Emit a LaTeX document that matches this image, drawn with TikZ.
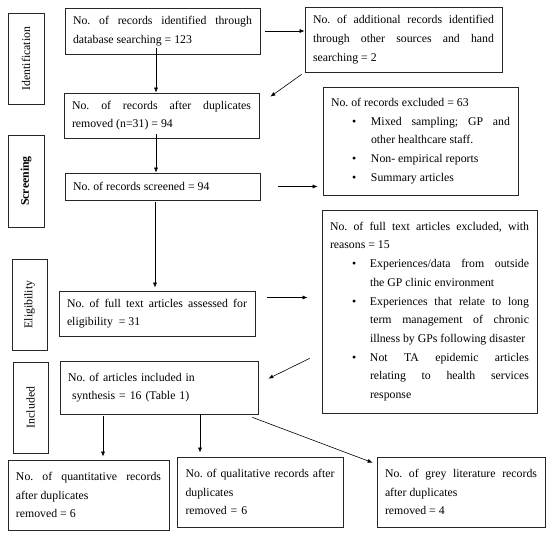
\documentclass[tikz,border=0pt]{standalone}
\usepackage{fontspec}
\setmainfont{Liberation Serif}
\usetikzlibrary{arrows.meta}
\frenchspacing
\newcommand\bitem[3]{\par\leftskip=#1\noindent\llap{\makebox[#2][l]{\textbullet}}#3\par}
\tikzset{
  box/.style={draw=black!85, line width=0.7pt, inner xsep=8pt, inner ysep=0pt, align=justify,
    font=\fontsize{11.8pt}{18.7pt}\selectfont\frenchspacing},
  side/.style={draw=black!85, line width=0.7pt, rotate=90, inner sep=0pt,
    font=\fontsize{11.8pt}{13pt}\selectfont},
  arr/.style={draw=black, line width=0.6pt, -{Latex[length=5pt,width=4pt]}},
}
\begin{document}
\begin{tikzpicture}[x=1pt,y=-1pt]
\useasboundingbox (0,0) rectangle (550,538);
% side labels
\node[side, minimum width=91pt, minimum height=36pt] (s1) at (26,58.5) {Identification};
\node[side, minimum width=92pt, minimum height=36pt, font=\fontsize{11.8pt}{13pt}\selectfont\bfseries] (s2) at (26,181) {Screening};
\node[side, minimum width=91pt, minimum height=35pt] (s3) at (29.5,304.5) {Eligibility};
\node[side, minimum width=91pt, minimum height=35pt] (s4) at (30.5,407.5) {Included};
% boxes
\node[box, text width=179pt, minimum height=46pt] (A) at (162.5,31)
  {No. of records identified through\linebreak database searching = 123};
\node[box, text width=181pt, minimum height=65pt] (B) at (403.5,39.5)
  {No. of additional records identified\linebreak through other sources and hand\linebreak searching = 2};
\node[box, text width=179pt, minimum height=45pt] (C) at (161.5,115.5)
  {No. of records after duplicates\linebreak removed (n=31) = 94};
\node[box, text width=179pt, minimum height=108pt] (D) at (420.5,141)
  {No. of records excluded = 63
   \bitem{40pt}{19pt}{Mixed sampling; GP and\linebreak other healthcare staff.}
   \bitem{40pt}{19pt}{Non- empirical reports}
   \bitem{40pt}{19pt}{Summary articles}};
\node[box, text width=179pt, minimum height=27pt] (E) at (162.5,186.5)
  {No. of records screened = 94};
\node[box, text width=180pt, minimum height=45pt] (F) at (157,313.5)
  {No. of full text articles assessed for\linebreak eligibility\ \ = 31};
\node[box, text width=199pt, minimum height=203pt] (G) at (429.5,311.5)
  {No. of full text articles excluded, with\linebreak reasons = 15
   \bitem{40pt}{18pt}{Experiences/data from outside\linebreak the GP clinic environment}
   \bitem{40pt}{18pt}{Experiences that relate to long\linebreak term management of chronic\linebreak illness by GPs following disaster}
   \bitem{40pt}{18pt}{Not TA epidemic articles\linebreak relating to health services\linebreak response}};
\node[box, text width=182pt, minimum height=53pt, align=left] (H) at (159,387.5)
  {No. of articles included in\\\hspace*{4pt}synthesis = 16 (Table 1)};
\node[box, text width=145pt, minimum height=70pt] (I) at (88.5,495)
  {No. of quantitative records\linebreak after duplicates\newline removed = 6};
\node[box, text width=150pt, minimum height=70pt, align=left] (J) at (260.5,492)
  {\mbox{No. of qualitative records after}\\duplicates\\removed = 6};
\node[box, text width=152pt, minimum height=70pt] (K) at (461,492)
  {No. of grey literature records\linebreak after duplicates\newline removed = 4};
% connectors
\draw[arr] ([xshift=5pt]A.east) -- ([xshift=0pt]A.east -| B.west);
\draw[arr] ([shift={(-6.5,-6)}]A.south) -- ([xshift=-6.5pt]A.south |- C.north);
\draw[arr] ([shift={(-3,2)}]B.south west) -- ([shift={(11,4)}]C.north east);
\draw[arr] ([shift={(-5.5,-4)}]C.south) -- ([xshift=-5.5pt]C.south |- E.north);
\draw[arr] ([xshift=18pt]E.east) -- ([xshift=-5pt]E.east -| D.west);
\draw[arr] ([shift={(-7.5,2)}]E.south) -- ([shift={(-7.5,-3)}]E.south |- F.north);
\draw[arr] ([shift={(12,-16)}]F.east) -- ([shift={(-14,-16)}]F.east -| G.west);
\draw[arr] ([shift={(-12,-55)}]G.south west) -- ([shift={(10,18)}]H.north east);
\draw[arr] ([shift={(-56,2)}]H.south) -- ([shift={(-56,-3)}]H.south |- I.north);
\draw[arr] ([shift={(41,0)}]H.south) -- ([shift={(41,-4)}]H.south |- J.north);
\draw[arr] ([shift={(-6,3)}]H.south east) -- ([shift={(-4,6)}]K.north west);
\end{tikzpicture}
\end{document}
